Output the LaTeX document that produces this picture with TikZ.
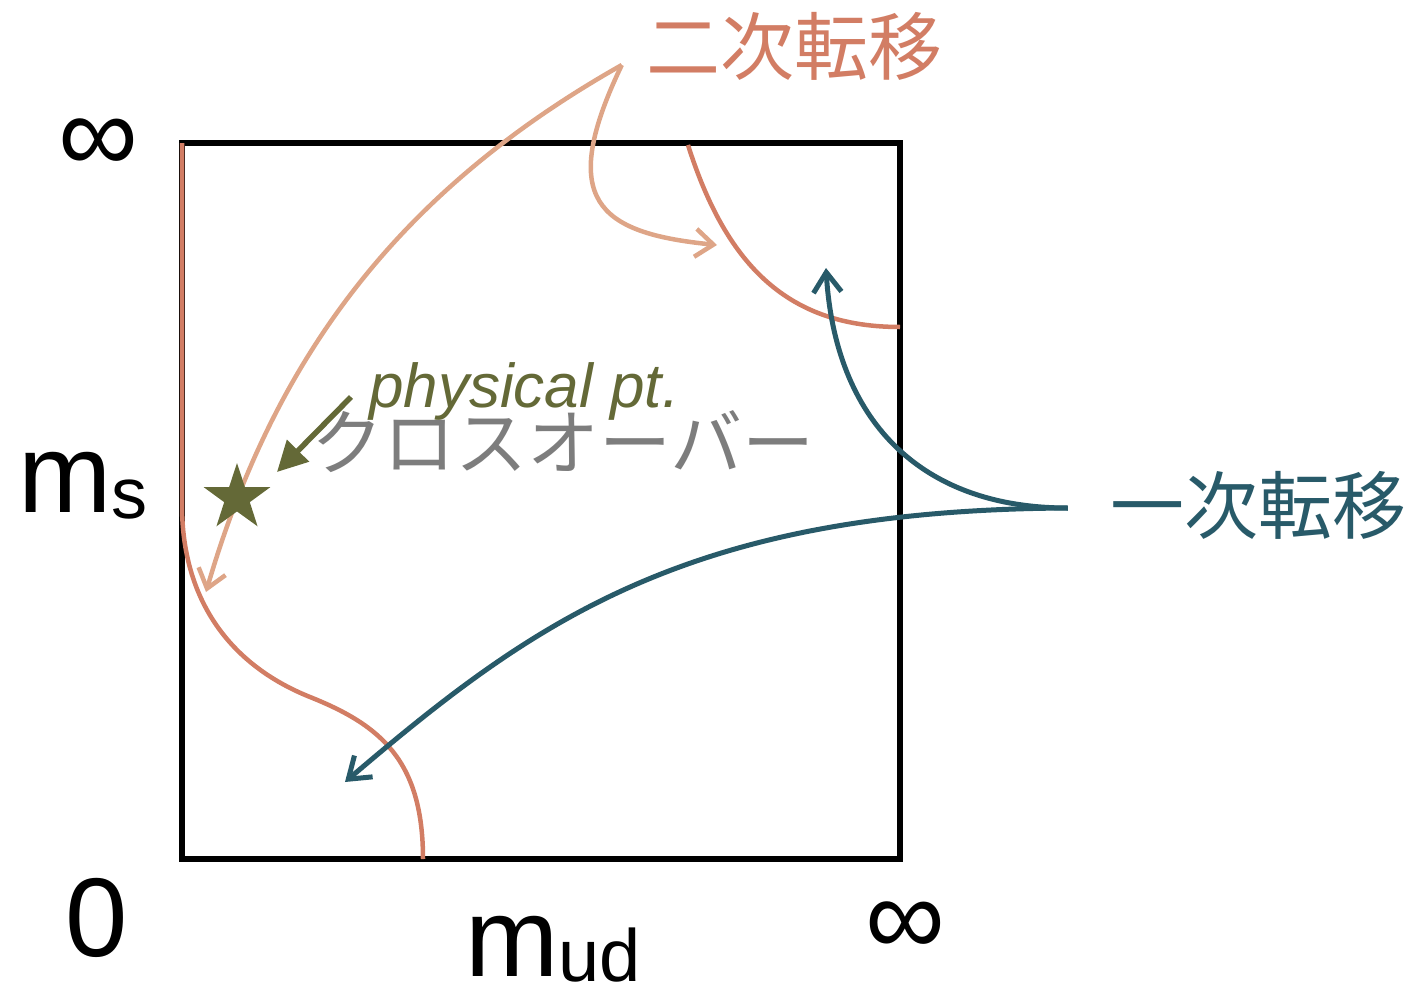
\documentclass[tikz,border=0pt]{standalone}
\usepackage{fontspec}
\setmainfont{Liberation Sans}
\newfontfamily\jpfont{Noto Sans CJK JP}
\usepackage{tikz}
\usetikzlibrary{arrows.meta,shapes.geometric}
\definecolor{secondc}{HTML}{D27D64}
\definecolor{peachc}{HTML}{DEA587}
\definecolor{firstc}{HTML}{285A69}
\definecolor{olivec}{HTML}{646937}
\definecolor{crossc}{HTML}{7D7D7D}

\begin{document}
\begin{tikzpicture}[x=1pt,y=-1pt,
  axislbl/.style={inner sep=0pt,font=\fontsize{112}{112}\selectfont},
  jplbl/.style={inner sep=0pt,font=\jpfont\fontsize{74}{74}\selectfont},
  crit/.style={draw=secondc,line width=4.5pt},
  peacharr/.style={draw=peachc,line width=4.5pt,-{Straight Barb[length=18pt,width=28pt]}},
  firstarr/.style={draw=firstc,line width=5pt,-{Straight Barb[length=20pt,width=28pt]}},
  physarr/.style={draw=olivec,line width=5.5pt,-{Triangle[length=30pt,width=30pt]}}
]
  \useasboundingbox (0,0) rectangle (1414,990);

  % frame
  \draw[line width=5.5pt] (182,143) rectangle (900,859);

  % axis labels
  \node[axislbl] (inftop) at (98,146) {∞};
  \node[axislbl,anchor=base west] (ms) at (18,512) {m\raisebox{-6pt}{\fontsize{72}{72}\selectfont s}};
  \node[axislbl] (zero) at (97,918) {0};
  \node[axislbl,anchor=base west] (mud) at (465,976) {m\raisebox{-5pt}{\fontsize{74}{74}\selectfont ud}};
  \node[axislbl] (infright) at (905,929) {∞};

  % transition labels
  \node[jplbl,text=secondc] (second) at (794,46) {二次転移};
  \node[jplbl,text=firstc] (first) at (1258,505) {一次転移};
  \node[jplbl,text=crossc,font=\jpfont\fontsize{72}{72}\selectfont] (cross) at (563,442) {クロスオーバー};
  \node[text=olivec,anchor=base west,inner sep=0pt,font=\itshape\fontsize{62}{62}\selectfont] (phys) at (369,407) {physical pt.};

  \coordinate (sTip) at ([shift={(-24,19)}]second.west);
  \coordinate (fTip) at ([shift={(-42,3)}]first.west);
  \coordinate (sEndL) at (206,592);
  \coordinate (sEndR) at (717,245);
  \coordinate (fEndUp) at (826,268);
  \coordinate (fEndDown) at (345,782);
  \coordinate (pTail) at (351,397);
  \coordinate (pHead) at (277,472);

  % critical lines
  \draw[crit] (182,143) -- (182,505) .. controls (182,600) and (230,665) .. (310,697)
    .. controls (380,725) and (423,760) .. (423,859);
  \draw[crit] (688,145) .. controls (727,268) and (790,327) .. (900,327);

  % arrows
  \draw[peacharr] (sTip) .. controls (404,188) and (276,352) .. (sEndL);
  \draw[peacharr] (sTip) .. controls (557,200) and (597,233) .. (sEndR);
  \draw[firstarr] (fTip) .. controls (918,508) and (835,418) .. (fEndUp);
  \draw[firstarr] (fTip) .. controls (688,510) and (535,620) .. (fEndDown);
  \draw[physarr] (pTail) -- (pHead);

  \node[star,star points=5,star point ratio=2.6,fill=olivec,minimum size=70pt,inner sep=0pt] (star) at (237,498) {};
\end{tikzpicture}
\end{document}
